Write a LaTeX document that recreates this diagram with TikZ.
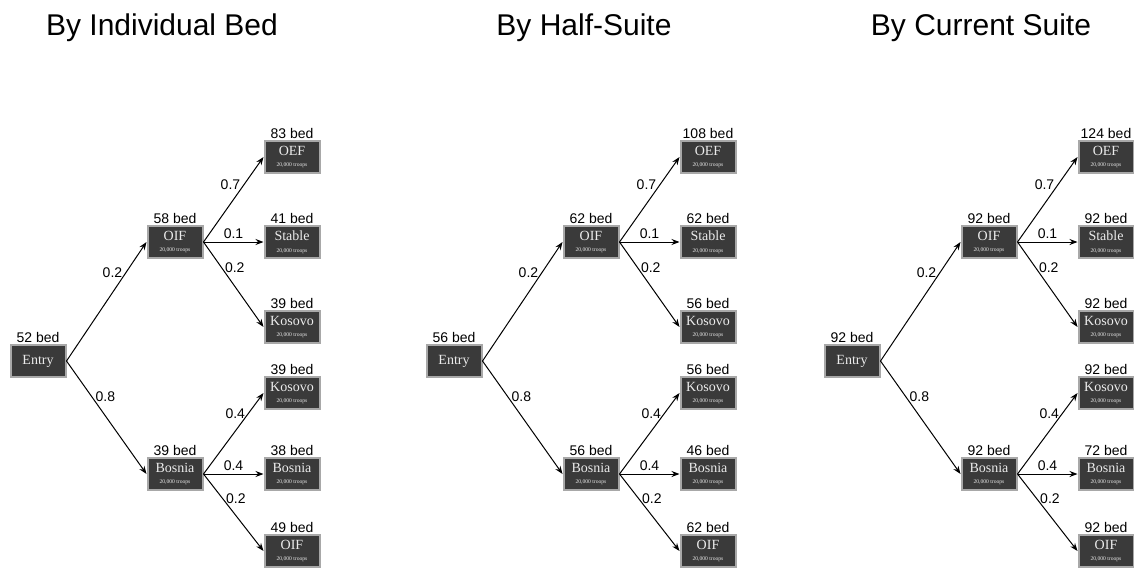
\documentclass[tikz,border=0pt]{standalone}
\usepackage{fontspec}
\setmainfont{Liberation Serif}
\setsansfont{Liberation Sans}
\usepackage{tikz}
\usetikzlibrary{arrows.meta, positioning}

\definecolor{boxfill}{HTML}{3A3A3A}
\definecolor{boxedge}{HTML}{A8A8A8}
\newcommand{\troops}[1]{#1\\[-1.2pt]{\fontsize{2.8}{3}\selectfont 20,000 troops}}

\begin{document}
\begin{tikzpicture}[x=0.5pt, y=-0.5pt,
    unit/.style={draw=boxedge, line width=1pt, fill=boxfill, text=white!92!black, minimum width=27.5pt, minimum height=16pt, inner sep=0pt, align=center, font=\fontsize{7}{7}\selectfont},
    bed/.style={font=\sffamily\fontsize{7}{8}\selectfont, inner sep=0.5pt},
    prob/.style={font=\sffamily\fontsize{7}{8}\selectfont, inner sep=1.5pt},
    arrow/.style={-{Stealth[length=4pt, width=3pt]}, line width=0.5pt},
    title/.style={font=\sffamily\fontsize{15}{18}\selectfont, anchor=base}
]
    \useasboundingbox (0,0) rectangle (1134,568);
    \foreach \dx/\tx/\name/\a/\b/\c/\d/\e/\f/\g/\h/\i [count=\k] in {
        0/162/By Individual Bed/52/58/83/41/39/39/39/38/49,
        416/584/By Half-Suite/56/62/108/62/56/56/56/46/62,
        814/981/By Current Suite/92/92/124/92/92/92/92/72/92}
    {
        \node[title] at (\tx,35) (title\k) {\name};
        % boxes
        \node[unit] at (\dx+38,361) (entry\k) {Entry};
        \node[unit] at (\dx+175,242) (oif\k) {\troops{OIF}};
        \node[unit] at (\dx+175,474) (bosnia\k) {\troops{Bosnia}};
        \node[unit] at (\dx+292,157) (oef\k) {\troops{OEF}};
        \node[unit] at (\dx+292,242) (stable\k) {\troops{Stable}};
        \node[unit] at (\dx+292,327) (kosovoa\k) {\troops{Kosovo}};
        \node[unit] at (\dx+292,393) (kosovob\k) {\troops{Kosovo}};
        \node[unit] at (\dx+292,474) (bosniab\k) {\troops{Bosnia}};
        \node[unit] at (\dx+292,551) (oifb\k) {\troops{OIF}};
        % bed counts
        \node[bed, above=0pt of entry\k] (bedentry\k) {\a\ bed};
        \node[bed, above=0pt of oif\k] (bedoif\k) {\b\ bed};
        \node[bed, above=0pt of oef\k] (bedoef\k) {\c\ bed};
        \node[bed, above=0pt of stable\k] (bedstable\k) {\d\ bed};
        \node[bed, above=0pt of kosovoa\k] (bedkosovoa\k) {\e\ bed};
        \node[bed, above=0pt of bosnia\k] (bedbosnia\k) {\f\ bed};
        \node[bed, above=0pt of kosovob\k] (bedkosovob\k) {\g\ bed};
        \node[bed, above=0pt of bosniab\k] (bedbosniab\k) {\h\ bed};
        \node[bed, above=0pt of oifb\k] (bedoifb\k) {\i\ bed};
        % branches
        \draw[arrow] (entry\k.east) -- node[prob, pos=0.74, left] {0.2} (oif\k.west);
        \draw[arrow] (entry\k.east) -- node[prob, pos=0.32, right] {0.8} (bosnia\k.west);
        \draw[arrow] (oif\k.east) -- node[prob, pos=0.67, left] {0.7} (oef\k.west);
        \draw[arrow] (oif\k.east) -- node[prob, pos=0.5, above] {0.1} (stable\k.west);
        \draw[arrow] (oif\k.east) -- node[prob, pos=0.3, right] {0.2} (kosovoa\k.west);
        \draw[arrow] (bosnia\k.east) -- node[prob, pos=0.75, left] {0.4} (kosovob\k.west);
        \draw[arrow] (bosnia\k.east) -- node[prob, pos=0.5, above] {0.4} (bosniab\k.west);
        \draw[arrow] (bosnia\k.east) -- node[prob, pos=0.32, right] {0.2} (oifb\k.west);
    }
\end{tikzpicture}
\end{document}
